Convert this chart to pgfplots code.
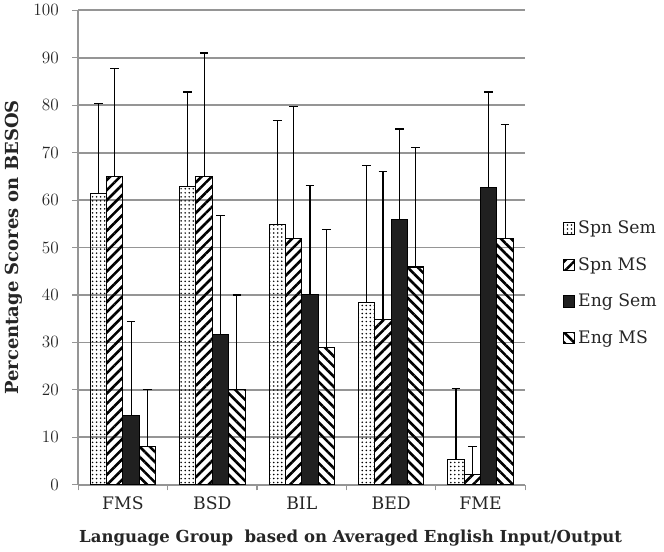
\documentclass[border=0pt]{standalone}
\usepackage{fontspec}
\setmainfont{DejaVu Serif}
\usepackage{pgfplots}
\pgfplotsset{compat=1.18}
\usetikzlibrary{patterns.meta}
\definecolor{GridGrey}{HTML}{959595}
\definecolor{BarBlack}{HTML}{202020}

\begin{document}
\begin{tikzpicture}
\begin{axis}[
  scale only axis,
  width=311pt, height=330pt,
  ybar=0pt,
  bar width=0.183,
  xmin=0.5, xmax=5.5,
  ymin=0, ymax=100,
  ytick={0,10,...,100},
  xtick={1,2,3,4,5},
  xticklabels={FMS,BSD,BIL,BED,FME},
  minor xtick={0.5,1.5,...,5.5},
  major x tick style={draw=none},
  minor x tick style={GridGrey, line width=0.8pt},
  tick align=outside,
  major tick length=4pt, minor tick length=4pt,
  y tick style={GridGrey, line width=0.8pt},
  axis lines*=left,
  axis line style={GridGrey, line width=1pt, -},
  ymajorgrids,
  grid style={GridGrey, line width=1.2pt},
  tick label style={font=\fontsize{12}{14}\selectfont, text=black!85},
  yticklabel style={xshift=-6pt},
  xticklabel style={yshift=-1pt},
  ylabel={\textbf{Percentage Scores on BESOS}},
  xlabel={\textbf{Language Group\ \ based on Averaged English Input/Output}},
  label style={text=black!85},
  xlabel style={font=\fontsize{11.5}{13}\selectfont, xshift=34pt, yshift=-7pt},
  ylabel style={font=\fontsize{12.5}{14}\selectfont, yshift=1pt},
  legend style={at={(1.0,0.425)}, anchor=west, xshift=23pt, draw=none, fill=none,
    font=\fontsize{12}{14}\selectfont, row sep=11pt, text=black!85},
  legend cell align=left,
  legend image code/.code={\draw[#1, line width=0.6pt] (0pt,-4pt) rectangle (8pt,4pt);},
  error bars/y dir=plus,
  error bars/y explicit,
  error bars/error mark options={rotate=90, mark size=3pt, line width=0.8pt, black},
  error bars/error bar style={line width=0.8pt, black},
]
% Spn Sem
\addplot[draw=black, line width=0.7pt, pattern={Dots[radius=0.6pt, distance=2.8pt]}, pattern color=black]
  coordinates {(1,61.4) +- (0,18.9) (2,62.8) +- (0,20.0) (3,54.8) +- (0,21.9) (4,38.5) +- (0,28.8) (5,5.4) +- (0,14.8)};
% Spn MS
\addplot[draw=black, line width=0.7pt, pattern={Lines[angle=45, distance=5pt, line width=1.8pt]}, pattern color=black]
  coordinates {(1,65.0) +- (0,22.8) (2,65.0) +- (0,26.0) (3,52.0) +- (0,27.8) (4,34.8) +- (0,31.2) (5,2.1) +- (0,6.0)};
% Eng Sem
\addplot[draw=black, line width=0.7pt, fill=BarBlack]
  coordinates {(1,14.5) +- (0,20.0) (2,31.6) +- (0,25.1) (3,40.2) +- (0,22.9) (4,56.0) +- (0,19.0) (5,62.6) +- (0,20.2)};
% Eng MS
\addplot[draw=black, line width=0.7pt, pattern={Lines[angle=-45, distance=5pt, line width=1.8pt]}, pattern color=black]
  coordinates {(1,8.1) +- (0,11.9) (2,20.0) +- (0,20.0) (3,28.9) +- (0,24.9) (4,45.9) +- (0,25.1) (5,52.0) +- (0,23.9)};
\legend{Spn Sem, Spn MS, Eng Sem, Eng MS}
\end{axis}
\end{tikzpicture}
\end{document}
